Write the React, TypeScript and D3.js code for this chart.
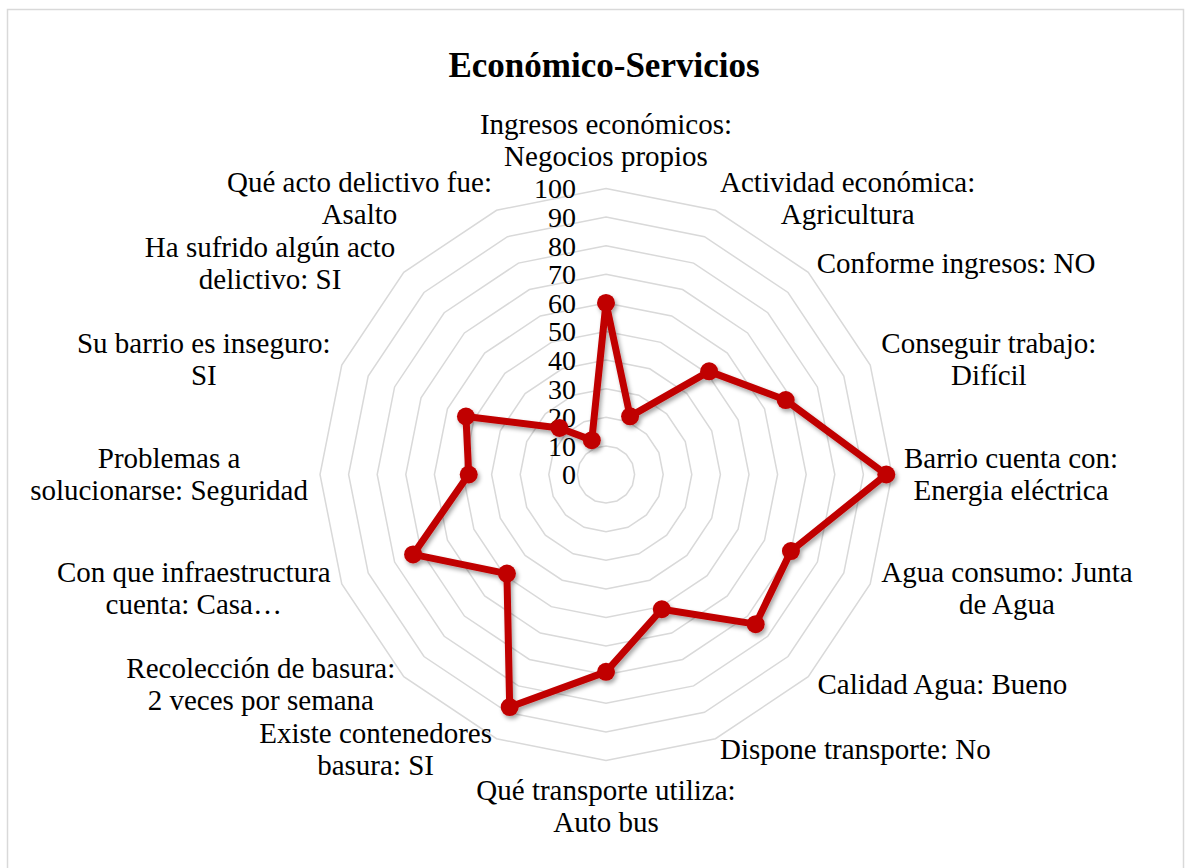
import React from "react";
import * as d3 from "d3";

const title = "Económico-Servicios";
const categories: string[][] = [
  ["Ingresos económicos:", "Negocios propios"],
  ["Actividad económica:", "Agricultura"],
  ["Conforme ingresos: NO"],
  ["Conseguir trabajo:", "Difícil"],
  ["Barrio cuenta con:", "Energia eléctrica"],
  ["Agua consumo: Junta", "de Agua"],
  ["Calidad Agua: Bueno"],
  ["Dispone transporte: No"],
  ["Qué transporte utiliza:", "Auto bus"],
  ["Existe contenedores", "basura: SI"],
  ["Recolección de basura:", "2 veces por semana"],
  ["Con que infraestructura", "cuenta: Casa…"],
  ["Problemas a", "solucionarse: Seguridad"],
  ["Su barrio es inseguro:", "SI"],
  ["Ha sufrido algún acto", "delictivo: SI"],
  ["Qué acto delictivo fue:", "Asalto"],
];
const values = [60, 22, 51, 68, 98, 70, 74, 51, 69, 88, 49, 73, 48, 53, 23, 13];
const ticks = [0, 10, 20, 30, 40, 50, 60, 70, 80, 90, 100];

const W = 1192;
const H = 868;
const cx = 606;
const cy = 474.5;
const R = 286;
const FONT = "'Liberation Serif', 'Times New Roman', serif";
const LABEL_SIZE = 29;
const LINE_H = 32;
const PAD = 12;

let ctx: CanvasRenderingContext2D | null = null;
function measure(text: string, size: number) {
  if (!ctx) ctx = document.createElement("canvas").getContext("2d");
  if (!ctx) return text.length * size * 0.45;
  ctx.font = `${size}px ${FONT}`;
  return ctx.measureText(text).width;
}

export default function App() {
  const n = categories.length;
  const r = d3.scaleLinear().domain([0, 100]).range([0, R]);
  const angle = (i: number) => (i * 2 * Math.PI) / n;
  const pt = (i: number, v: number): [number, number] => [
    cx + r(v) * Math.sin(angle(i)),
    cy - r(v) * Math.cos(angle(i)),
  ];

  const rings = ticks.filter((t) => t > 0);
  const ringPath = (t: number) =>
    d3.line()(d3.range(n).map((i) => pt(i, t))) + "Z";

  const dataPath = d3.line()(values.map((v, i) => pt(i, v))) + "Z";

  const labels = categories.map((lines, i) => {
    const a = angle(i);
    const dx = Math.sin(a);
    const dy = -Math.cos(a);
    const ax = cx + (R + PAD) * dx;
    const ay = cy + (R + PAD) * dy;
    const widths = lines.map((l) => measure(l, LABEL_SIZE));
    const bw = Math.max(...widths);
    let bcx: number;
    let baselines: number[];
    const m = lines.length;
    if (Math.abs(dx) < 0.01) {
      bcx = ax;
      if (dy < 0) {
        baselines = lines.map((_, k) => ay - 10.5 - (m - 1 - k) * LINE_H);
      } else {
        baselines = lines.map((_, k) => ay + 27 + k * LINE_H);
      }
    } else {
      bcx = dx > 0 ? ax + bw / 2 : ax - bw / 2;
      baselines = lines.map((_, k) => ay + 9 + (k - (m - 1) / 2) * LINE_H);
    }
    return { lines, bcx, baselines };
  });

  return (
    <svg width={W} height={H} style={{ position: "absolute", left: 0, top: 0 }}>
      <defs>
        <filter id="shadow" x="-20%" y="-20%" width="140%" height="140%">
          <feDropShadow dx="2" dy="3" stdDeviation="2" floodColor="#000" floodOpacity="0.35" />
        </filter>
      </defs>
      <rect x={0} y={0} width={W} height={H} fill="#fff" />
      <rect x={7.5} y={9.5} width={1176} height={900} fill="none" stroke="#d9d9d9" strokeWidth={1.5} />
      <text
        x={604}
        y={77}
        textAnchor="middle"
        fontFamily={FONT}
        fontWeight="bold"
        fontSize={35}
        fill="#000"
      >
        {title}
      </text>
      <g>
        {rings.map((t) => (
          <path key={t} d={ringPath(t)} fill="none" stroke="#d9d9d9" strokeWidth={1.5} />
        ))}
      </g>
      <g fontFamily={FONT} fontSize={28} fill="#000">
        {ticks.map((t) => (
          <text key={t} x={cx - 30} y={cy - r(t)} dy="0.35em" textAnchor="end">
            {t}
          </text>
        ))}
      </g>
      <g filter="url(#shadow)">
        <path d={dataPath} fill="none" stroke="#C00000" strokeWidth={7} strokeLinejoin="round" />
        {values.map((v, i) => {
          const [x, y] = pt(i, v);
          return <circle key={i} cx={x} cy={y} r={9} fill="#C00000" />;
        })}
      </g>
      <g fontFamily={FONT} fontSize={LABEL_SIZE} fill="#000">
        {labels.map((lb, i) =>
          lb.lines.map((l, k) => (
            <text key={i + "-" + k} x={lb.bcx} y={lb.baselines[k]} textAnchor="middle">
              {l}
            </text>
          ))
        )}
      </g>
    </svg>
  );
}
